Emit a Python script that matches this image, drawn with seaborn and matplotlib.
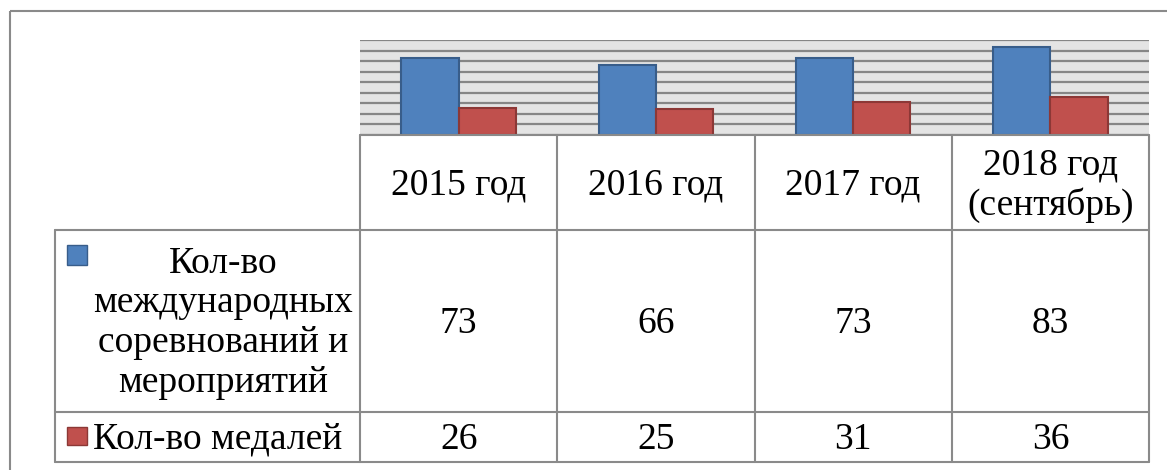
import matplotlib
matplotlib.use("Agg")
import matplotlib.pyplot as plt
import matplotlib.transforms as mtransforms
from matplotlib.patches import Rectangle
import pandas as pd
import seaborn as sns

years = ["2015 год", "2016 год", "2017 год", "2018 год\n(сентябрь)"]
events = [73, 66, 73, 83]
medals = [26, 25, 31, 36]
series = ["Кол-во\nмеждународных\nсоревнований и\nмероприятий", "Кол-во медалей"]
colors = ["#4F81BD", "#C0504D"]
edges = ["#385D8A", "#8C3836"]

df = pd.DataFrame({
    "year": years * 2,
    "value": events + medals,
    "series": [series[0]] * 4 + [series[1]] * 4,
})

sns.set_theme(style="white")
plt.rcParams["font.family"] = ["Liberation Serif", "DejaVu Serif"]
plt.rcParams["text.color"] = "black"

W, H = 1167, 470
fig = plt.figure(figsize=(W / 100, H / 100), dpi=100)

# plot area (pixels: x 360-1149, y 40-135)
ax = fig.add_axes([360 / W, 1 - 135 / H, (1149 - 360) / W, (135 - 40) / H])
ax.set_facecolor("#E4E4E4")
sns.barplot(data=df, x="year", y="value", hue="series", order=years,
            hue_order=series, palette=colors, saturation=1, width=0.58,
            gap=0, legend=False, ax=ax, zorder=3)
for i, bars in enumerate(ax.containers):
    for b in bars:
        b.set_edgecolor(edges[i])
        b.set_linewidth(1.5)
ax.set_ylim(0, 90)
ax.set_yticks(range(0, 91, 10))
ax.yaxis.grid(True, color="#868686", linewidth=1.6)
ax.set_axisbelow(True)
ax.set_xlim(-0.5, len(years) - 0.5)
ax.tick_params(left=False, bottom=False, labelleft=False, labelbottom=False)
ax.set_xlabel("")
ax.set_ylabel("")
for s in ax.spines.values():
    s.set_visible(False)

# overlay in pixel coordinates for frame and data table
ov = fig.add_axes([0, 0, 1, 1], zorder=5)
ov.set_xlim(0, W)
ov.set_ylim(H, 0)
ov.axis("off")
ov.patch.set_alpha(0)

lc = "#8A8A8A"
lw = 1.5
# outer chart frame
ov.plot([10, 10], [11, H], color=lc, lw=lw, solid_capstyle="butt")
ov.plot([10, W], [11, 11], color=lc, lw=lw, solid_capstyle="butt")

# table grid
top, r1, r2, bot = 135, 230, 412, 462
left, c0, right = 55, 360, 1149
ov.plot([c0, right], [top, top], color=lc, lw=lw)
ov.plot([left, right], [r1, r1], color=lc, lw=lw)
ov.plot([left, right], [r2, r2], color=lc, lw=lw)
ov.plot([left, right], [bot, bot], color=lc, lw=lw)
ov.plot([left, left], [r1, bot], color=lc, lw=lw)
for k in range(len(years) + 1):
    x = c0 + (right - c0) * k / len(years)
    ov.plot([x, x], [top, bot], color=lc, lw=lw)

# cell texts: x follows the bar axes categories, y in pixels
tr = mtransforms.blended_transform_factory(ax.transData, ov.transData)
fs = 27
for i, y in enumerate(years):
    ov.text(i, (top + r1) / 2 + 3, y, transform=tr, ha="center", va="center",
            fontsize=fs, linespacing=1.19)
    ov.text(i, (r1 + r2) / 2 + 3, str(events[i]), transform=tr, ha="center",
            va="center", fontsize=fs)
    ov.text(i, (r2 + bot) / 2 + 3, str(medals[i]), transform=tr, ha="center",
            va="center", fontsize=fs)

# row headers with legend keys
ov.add_patch(Rectangle((67, 245), 20, 20, facecolor=colors[0],
                       edgecolor=edges[0], lw=1))
ov.text(223, (r1 + r2) / 2 + 2, series[0], ha="center", va="center",
        fontsize=fs, linespacing=1.19)
ov.add_patch(Rectangle((67, 427), 20, 18, facecolor=colors[1],
                       edgecolor=edges[1], lw=1))
ov.text(93, (r2 + bot) / 2 + 2, series[1], ha="left", va="center", fontsize=fs)

fig.savefig("out.png", dpi=100)
